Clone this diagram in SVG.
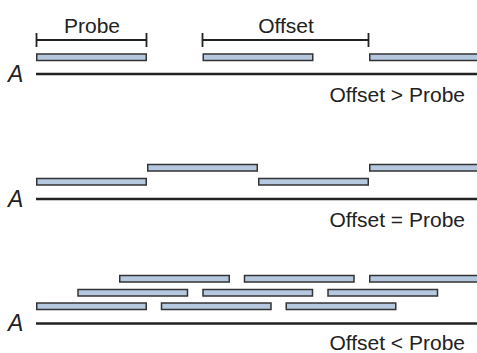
<svg xmlns="http://www.w3.org/2000/svg" width="477" height="353" viewBox="0 0 477 353">
<style>
.bar{fill:#b5c8e0;stroke:#333;stroke-width:1.5}
.base{stroke:#222;stroke-width:2.6;fill:none}
.br{stroke:#222;stroke-width:1.8;fill:none}
text{font-family:"Liberation Sans",Arial,sans-serif;fill:#222}
.lab{font-size:21px}
.a{font-size:23px;font-style:italic}
</style>
<rect width="477" height="353" fill="#fff"/>
<g id="connectors">
<path class="br" d="M36.5,33V47M36.5,40H146.5M146.5,33V47"/>
<path class="br" d="M202.5,33V47M202.5,40H368.5M368.5,33V47"/>
</g>
<g id="panel1">
<text class="lab" x="92" y="33" text-anchor="middle">Probe</text>
<text class="lab" x="286" y="33" text-anchor="middle">Offset</text>
<rect class="bar" x="36.75" y="54" width="109.5" height="6.5"/>
<rect class="bar" x="203.25" y="54" width="109.5" height="6.5"/>
<rect class="bar" x="369.75" y="54" width="109.5" height="6.5"/>
<line class="base" x1="36" y1="74" x2="477" y2="74"/>
<text class="a" x="8" y="82">A</text>
<text class="lab" x="465" y="102" text-anchor="end">Offset &gt; Probe</text>
</g>
<g id="panel2">
<rect class="bar" x="147.75" y="164.5" width="109.5" height="6.5"/>
<rect class="bar" x="369.75" y="164.5" width="109.5" height="6.5"/>
<rect class="bar" x="36.75" y="178.5" width="109.5" height="6.5"/>
<rect class="bar" x="258.75" y="178.5" width="109.5" height="6.5"/>
<line class="base" x1="36" y1="199" x2="477" y2="199"/>
<text class="a" x="8" y="207">A</text>
<text class="lab" x="465" y="226.5" text-anchor="end">Offset = Probe</text>
</g>
<g id="panel3">
<rect class="bar" x="119.75" y="275.5" width="109.5" height="6.5"/>
<rect class="bar" x="244.5" y="275.5" width="109.5" height="6.5"/>
<rect class="bar" x="369.75" y="275.5" width="109.5" height="6.5"/>
<rect class="bar" x="78" y="289.5" width="109.5" height="6.5"/>
<rect class="bar" x="203" y="289.5" width="109.5" height="6.5"/>
<rect class="bar" x="328" y="289.5" width="109.5" height="6.5"/>
<rect class="bar" x="36.75" y="303" width="109.5" height="6.5"/>
<rect class="bar" x="161.5" y="303" width="109.5" height="6.5"/>
<rect class="bar" x="286.25" y="303" width="109.5" height="6.5"/>
<line class="base" x1="36" y1="323.5" x2="477" y2="323.5"/>
<text class="a" x="8" y="331">A</text>
<text class="lab" x="465" y="349.5" text-anchor="end">Offset &lt; Probe</text>
</g>
</svg>
